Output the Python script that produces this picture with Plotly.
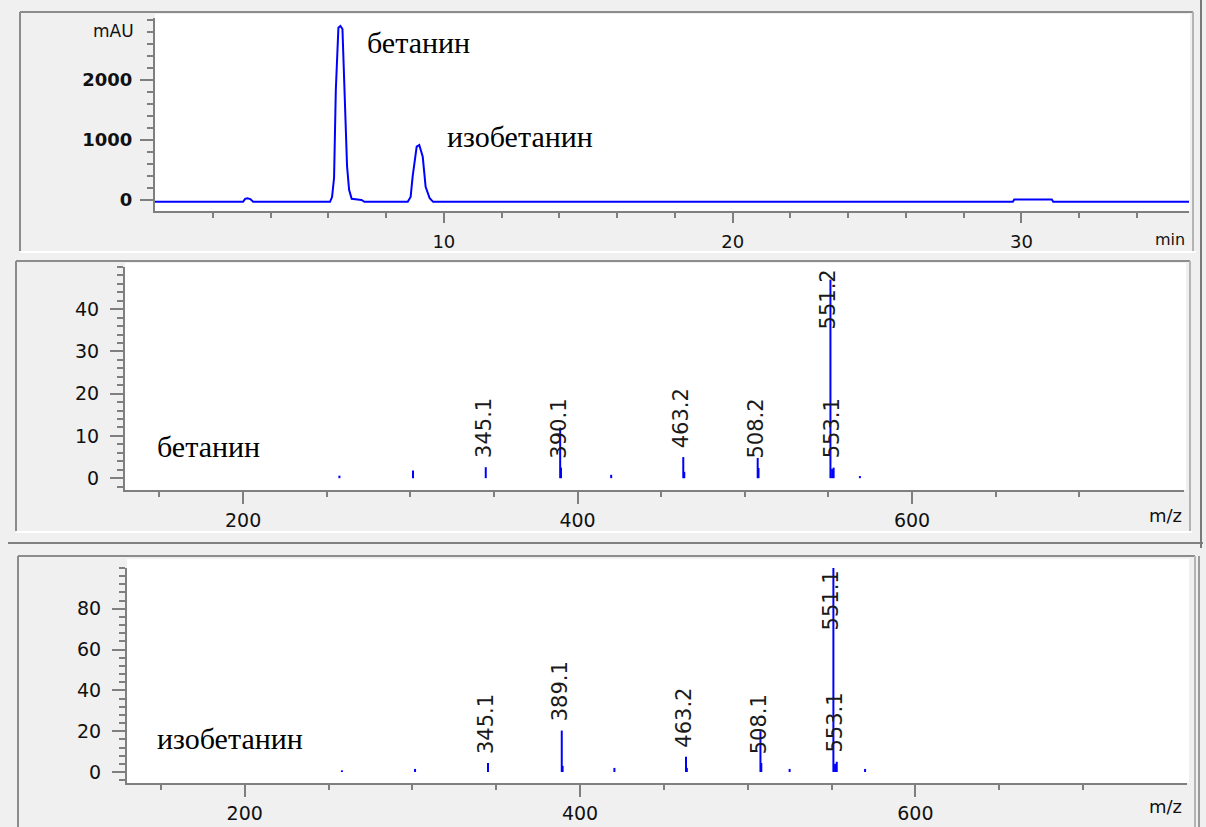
import plotly.graph_objects as go

W, H = 1206, 827

# ---------------- data ----------------
# Chromatogram (time, min ; absorbance, mAU)
chrom_time = [0.0, 3.05, 3.12, 3.2, 3.3, 3.4, 6.06, 6.13, 6.2, 6.26, 6.35, 6.42, 6.49, 6.56,
              6.65, 6.72, 6.81, 7.15, 7.25, 8.75, 8.85, 8.92, 9.06, 9.15, 9.27, 9.37, 9.51,
              9.63, 29.7, 29.75, 31.05, 31.1, 35.8]
chrom_mau = [-30, -30, 20, 30, 15, -30, -30, 50, 370, 1830, 2870, 2900, 2850, 1750,
             560, 170, 20, 0, -30, -30, 50, 390, 890, 917, 720, 220, 30,
             -30, -30, 10, 10, -30, -30]
chrom_peak_names = ["бетанин", "изобетанин"]

# Mass spectrum of betanin
bet_mz = [257.6, 301.6, 345.1, 389.6, 390.1, 420.1, 463.2, 463.8, 507.7, 508.2,
          551.2, 552.2, 553.1, 568.8]
bet_int = [0.6, 1.8, 2.6, 12.0, 2.5, 0.8, 5.0, 1.5, 4.8, 2.4,
           47.0, 2.2, 2.5, 0.5]
bet_labels = ["345.1", "390.1", "463.2", "508.2", "551.2", "553.1"]

# Mass spectrum of isobetanin
iso_mz = [258.0, 301.6, 345.1, 389.1, 389.6, 420.5, 463.2, 463.7, 507.6, 508.1,
          525.0, 551.1, 552.1, 553.1, 570.0]
iso_int = [0.8, 1.5, 4.4, 20.3, 3.0, 2.0, 7.5, 2.0, 20.0, 4.4,
           1.5, 100.0, 4.0, 5.0, 1.5]
iso_labels = ["345.1", "389.1", "463.2", "508.1", "551.1", "553.1"]

# ---------------- layout geometry (pixels) ----------------
def px(x):
    return x / W

def py(y):
    return 1 - y / H

panels = {
    "top": dict(x0=155, x1=1189, y0=18, y1=211, xr=[0, 35.8], yr=[-183, 3033]),
    "mid": dict(x0=125, x1=1184, y0=267, y1=490, xr=[129.4, 762.6], yr=[-2.8, 50]),
    "bot": dict(x0=127, x1=1187, y0=568, y1=783, xr=[129.8, 762.0], yr=[-5.4, 100]),
}

BLUE = "#0000ff"
AX = "#7f7f7f"
LBL_FONT = "DejaVu Sans"

fig = go.Figure()

# chromatogram
fig.add_trace(go.Scatter(x=chrom_time, y=chrom_mau, mode="lines",
                         line=dict(color=BLUE, width=2), xaxis="x", yaxis="y",
                         hoverinfo="skip", showlegend=False))


def sticks(mz, inten):
    xs, ys = [], []
    for m, i in zip(mz, inten):
        xs += [m, m, None]
        ys += [0, i, None]
    return xs, ys


for mz, it, ax in [(bet_mz, bet_int, "2"), (iso_mz, iso_int, "3")]:
    xs, ys = sticks(mz, it)
    fig.add_trace(go.Scatter(x=xs, y=ys, mode="lines", line=dict(color=BLUE, width=2),
                             xaxis="x" + ax, yaxis="y" + ax, hoverinfo="skip",
                             showlegend=False, connectgaps=False))


def xaxis(p, tickvals, minorvals, size, standoff, majlen, minlen):
    return dict(domain=[px(p["x0"]), px(p["x1"])], range=p["xr"], showline=True,
                linecolor=AX, linewidth=2, showgrid=False, zeroline=False,
                ticks="outside", tickmode="array", tickvals=tickvals,
                ticklen=majlen, tickwidth=2, tickcolor=AX,
                tickfont=dict(family=LBL_FONT, size=size, color="#111111"),
                ticklabelstandoff=standoff,
                minor=dict(ticks="outside", tickmode="array", tickvals=minorvals,
                           ticklen=minlen, tickwidth=2, tickcolor=AX, showgrid=False),
                fixedrange=True)


def yaxis(p, tickvals, ticktext, minorvals, font, standoff):
    return dict(domain=[py(p["y1"]), py(p["y0"])], range=p["yr"], showline=True,
                linecolor=AX, linewidth=2, showgrid=False, zeroline=False,
                ticks="outside", tickmode="array", tickvals=tickvals, ticktext=ticktext,
                ticklen=13, tickwidth=2, tickcolor=AX, tickfont=font,
                ticklabelstandoff=standoff,
                minor=dict(ticks="outside", tickmode="array", tickvals=minorvals,
                           ticklen=6, tickwidth=2, tickcolor=AX, showgrid=False),
                fixedrange=True)


T, M, B = panels["top"], panels["mid"], panels["bot"]

layout = dict(
    width=W, height=H, autosize=False,
    margin=dict(l=0, r=0, t=0, b=0, pad=0),
    paper_bgcolor="#f0f0f0", plot_bgcolor="#ffffff",
    showlegend=False,
    xaxis=dict(xaxis(T, [10, 20, 30], list(range(2, 35, 2)), 18, 3, 10, 5), anchor="y"),
    yaxis=dict(yaxis(T, [0, 1000, 2000, 3000], ["0", "1000", "2000", ""],
                     list(range(0, 3001, 200)),
                     dict(family=LBL_FONT, size=18, color="#111111", weight="bold"), 4),
               anchor="x"),
    xaxis2=dict(xaxis(M, [200, 400, 600], list(range(150, 701, 50)), 19, 0, 12, 5), anchor="y2"),
    yaxis2=dict(yaxis(M, [0, 10, 20, 30, 40, 50], ["0", "10", "20", "30", "40", ""],
                      list(range(-2, 51, 2)),
                      dict(family=LBL_FONT, size=19, color="#111111"), 7), anchor="x2"),
    xaxis3=dict(xaxis(B, [200, 400, 600], list(range(150, 701, 50)), 19, 0, 12, 5), anchor="y3"),
    yaxis3=dict(yaxis(B, [0, 20, 40, 60, 80, 100], ["0", "20", "40", "60", "80", ""],
                      list(range(-4, 101, 4)),
                      dict(family=LBL_FONT, size=19, color="#111111"), 7), anchor="x3"),
)

# ---------------- frames / panels ----------------
shapes = []


def line(x0, y0, x1, y1, color, width=2, layer="below"):
    shapes.append(dict(type="line", xref="paper", yref="paper", x0=px(x0), y0=py(y0),
                       x1=px(x1), y1=py(y1), line=dict(color=color, width=width), layer=layer))


def rect(x0, y0, x1, y1, fill):
    shapes.append(dict(type="rect", xref="paper", yref="paper", x0=px(x0), y0=py(y0),
                       x1=px(x1), y1=py(y1), fillcolor=fill, line=dict(width=0), layer="below"))


DARK = "#8c8c8c"
LIGHT = "#b4b4b4"
# top panel frame
line(20, 12, 1193, 12, DARK)
line(20, 12, 20, 251, DARK)
line(1193, 12, 1193, 251, LIGHT)
line(20, 252, 1196, 252, "#ffffff")
rect(155, 14, 1190, 211, "#ffffff")
# middle panel frame
line(16, 261, 1190, 261, DARK)
line(16, 261, 16, 531, DARK)
line(1190, 261, 1190, 531, LIGHT)
line(16, 532, 1192, 532, "#ffffff")
rect(125, 263, 1186, 490, "#ffffff")
# separator
line(8, 543, 1203, 543, "#808080")
# bottom panel frame
line(18, 556, 1195, 556, DARK)
line(18, 556, 18, 827, DARK)
line(1195, 556, 1195, 827, LIGHT)
rect(127, 559, 1189, 783, "#ffffff")
# right window edge
line(1201, 0, 1201, 548, "#7a7a7a")
line(1199, 556, 1199, 827, "#9a9a9a")

layout["shapes"] = shapes

# ---------------- annotations ----------------
ann = []
SERIF = "Liberation Serif"

# axis unit labels
ann.append(dict(text="mAU", xref="paper", yref="paper", x=px(136), y=py(31), xanchor="right",
                yanchor="middle", showarrow=False, font=dict(family=LBL_FONT, size=17, color="#111111")))
ann.append(dict(text="min", xref="paper", yref="paper", x=px(1187), y=py(240), xanchor="right",
                yanchor="middle", showarrow=False, font=dict(family=LBL_FONT, size=16, color="#111111")))
for yy in (515, 806):
    ann.append(dict(text="m/z", xref="paper", yref="paper", x=px(1184), y=py(yy), xanchor="right",
                    yanchor="middle", showarrow=False, font=dict(family=LBL_FONT, size=18, color="#111111")))

# compound names on the chromatogram
ann.append(dict(text=chrom_peak_names[0], xref="x domain", yref="y domain", x=0.203, y=0.872,
                xanchor="left", yanchor="middle", showarrow=False,
                font=dict(family=SERIF, size=30, color="#000000")))
ann.append(dict(text=chrom_peak_names[1], xref="x domain", yref="y domain", x=0.2805, y=0.385,
                xanchor="left", yanchor="middle", showarrow=False,
                font=dict(family=SERIF, size=30, color="#000000")))
# compound names on the spectra
ann.append(dict(text=chrom_peak_names[0], xref="x2 domain", yref="y2 domain", x=0.028, y=0.193,
                xanchor="left", yanchor="middle", showarrow=False,
                font=dict(family=SERIF, size=30, color="#000000")))
ann.append(dict(text=chrom_peak_names[1], xref="x3 domain", yref="y3 domain", x=0.026, y=0.209,
                xanchor="left", yanchor="middle", showarrow=False,
                font=dict(family=SERIF, size=30, color="#000000")))

# peak labels
LABEL_SIZE = 21
for mz, it, labels, ax, p in [(bet_mz, bet_int, bet_labels, "2", M), (iso_mz, iso_int, iso_labels, "3", B)]:
    ppu = (p["y1"] - p["y0"]) / (p["yr"][1] - p["yr"][0])  # pixels per unit
    for lab in labels:
        m = float(lab)
        k = min(range(len(mz)), key=lambda j: abs(mz[j] - m))
        val = it[k]
        text_len = 2.86 * LABEL_SIZE + 4
        top_px = (val - p["yr"][0]) * ppu + 7 + text_len
        height_px = p["y1"] - p["y0"]
        if top_px > height_px:
            ann.append(dict(text=lab, x=mz[k], y=p["yr"][1], xref="x" + ax, yref="y" + ax,
                            textangle=-90, xanchor="center", yanchor="top", xshift=-2,
                            showarrow=False,
                            font=dict(family=LBL_FONT, size=LABEL_SIZE, color="#1a1a1a")))
        else:
            ann.append(dict(text=lab, x=mz[k], y=val, xref="x" + ax, yref="y" + ax,
                            textangle=-90, xanchor="center", yanchor="bottom", yshift=7, xshift=-2,
                            showarrow=False,
                            font=dict(family=LBL_FONT, size=LABEL_SIZE, color="#1a1a1a")))

layout["annotations"] = ann
fig.update_layout(layout)

fig.write_html("out.html", config={"displayModeBar": False, "staticPlot": True})
